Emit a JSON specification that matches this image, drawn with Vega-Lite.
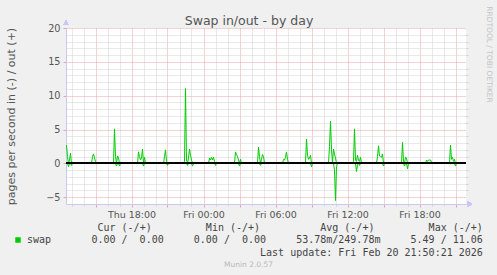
{
  "$schema": "https://vega.github.io/schema/vega-lite/v6.json",
  "width": 400,
  "height": 176,
  "autosize": {"type": "none"},
  "padding": {"left": 66, "top": 28, "right": 31, "bottom": 71},
  "background": "#f0f0f0",
  "view": {"fill": "white", "stroke": null},
  "data": {"values": [
    {"t": "2026-02-19T12:35", "v": 2.7, "d": "out"},
    {"t": "2026-02-19T12:40", "v": 1.0, "d": "out"},
    {"t": "2026-02-19T12:45", "v": 0, "d": "out"},
    {"t": "2026-02-19T12:50", "v": 0.5, "d": "out"},
    {"t": "2026-02-19T12:55", "v": 1.5, "d": "out"},
    {"t": "2026-02-19T13:00", "v": 0, "d": "out"},
    {"t": "2026-02-19T14:40", "v": 0, "d": "out"},
    {"t": "2026-02-19T14:45", "v": 1.0, "d": "out"},
    {"t": "2026-02-19T14:50", "v": 1.4, "d": "out"},
    {"t": "2026-02-19T14:55", "v": 0.8, "d": "out"},
    {"t": "2026-02-19T15:00", "v": 0.3, "d": "out"},
    {"t": "2026-02-19T15:05", "v": 0, "d": "out"},
    {"t": "2026-02-19T16:30", "v": 0, "d": "out"},
    {"t": "2026-02-19T16:35", "v": 5.1, "d": "out"},
    {"t": "2026-02-19T16:40", "v": 1.0, "d": "out"},
    {"t": "2026-02-19T16:45", "v": 0, "d": "out"},
    {"t": "2026-02-19T16:50", "v": 1.1, "d": "out"},
    {"t": "2026-02-19T16:55", "v": 0.8, "d": "out"},
    {"t": "2026-02-19T17:00", "v": 0, "d": "out"},
    {"t": "2026-02-19T18:30", "v": 0, "d": "out"},
    {"t": "2026-02-19T18:35", "v": 1.7, "d": "out"},
    {"t": "2026-02-19T18:40", "v": 1.0, "d": "out"},
    {"t": "2026-02-19T18:45", "v": 0.5, "d": "out"},
    {"t": "2026-02-19T18:50", "v": 0.8, "d": "out"},
    {"t": "2026-02-19T18:55", "v": 2.1, "d": "out"},
    {"t": "2026-02-19T19:00", "v": 0, "d": "out"},
    {"t": "2026-02-19T19:05", "v": 0.9, "d": "out"},
    {"t": "2026-02-19T19:10", "v": 0, "d": "out"},
    {"t": "2026-02-19T20:40", "v": 0, "d": "out"},
    {"t": "2026-02-19T20:45", "v": 1.0, "d": "out"},
    {"t": "2026-02-19T20:50", "v": 2.0, "d": "out"},
    {"t": "2026-02-19T20:55", "v": 0.3, "d": "out"},
    {"t": "2026-02-19T21:00", "v": 0, "d": "out"},
    {"t": "2026-02-19T22:20", "v": 0, "d": "out"},
    {"t": "2026-02-19T22:25", "v": 0.3, "d": "out"},
    {"t": "2026-02-19T22:30", "v": 11.06, "d": "out"},
    {"t": "2026-02-19T22:35", "v": 0.5, "d": "out"},
    {"t": "2026-02-19T22:40", "v": 0, "d": "out"},
    {"t": "2026-02-19T22:45", "v": 0.8, "d": "out"},
    {"t": "2026-02-19T22:50", "v": 2.1, "d": "out"},
    {"t": "2026-02-19T22:55", "v": 1.2, "d": "out"},
    {"t": "2026-02-19T23:00", "v": 0.5, "d": "out"},
    {"t": "2026-02-19T23:05", "v": 0, "d": "out"},
    {"t": "2026-02-20T00:25", "v": 0, "d": "out"},
    {"t": "2026-02-20T00:30", "v": 0.8, "d": "out"},
    {"t": "2026-02-20T00:35", "v": 0.5, "d": "out"},
    {"t": "2026-02-20T00:40", "v": 0.9, "d": "out"},
    {"t": "2026-02-20T00:45", "v": 0.5, "d": "out"},
    {"t": "2026-02-20T00:50", "v": 0.9, "d": "out"},
    {"t": "2026-02-20T00:55", "v": 0.3, "d": "out"},
    {"t": "2026-02-20T01:00", "v": 0, "d": "out"},
    {"t": "2026-02-20T02:35", "v": 0, "d": "out"},
    {"t": "2026-02-20T02:40", "v": 1.7, "d": "out"},
    {"t": "2026-02-20T02:45", "v": 1.3, "d": "out"},
    {"t": "2026-02-20T02:50", "v": 1.0, "d": "out"},
    {"t": "2026-02-20T02:55", "v": 0.5, "d": "out"},
    {"t": "2026-02-20T03:00", "v": 0, "d": "out"},
    {"t": "2026-02-20T03:05", "v": 0.6, "d": "out"},
    {"t": "2026-02-20T03:10", "v": 0, "d": "out"},
    {"t": "2026-02-20T04:30", "v": 0, "d": "out"},
    {"t": "2026-02-20T04:35", "v": 2.4, "d": "out"},
    {"t": "2026-02-20T04:40", "v": 1.0, "d": "out"},
    {"t": "2026-02-20T04:45", "v": 0, "d": "out"},
    {"t": "2026-02-20T04:50", "v": 0.6, "d": "out"},
    {"t": "2026-02-20T04:55", "v": 1.3, "d": "out"},
    {"t": "2026-02-20T05:00", "v": 1.0, "d": "out"},
    {"t": "2026-02-20T05:05", "v": 0, "d": "out"},
    {"t": "2026-02-20T06:35", "v": 0, "d": "out"},
    {"t": "2026-02-20T06:40", "v": 0.6, "d": "out"},
    {"t": "2026-02-20T06:45", "v": 0.5, "d": "out"},
    {"t": "2026-02-20T06:50", "v": 0.9, "d": "out"},
    {"t": "2026-02-20T06:55", "v": 1.7, "d": "out"},
    {"t": "2026-02-20T07:00", "v": 0.6, "d": "out"},
    {"t": "2026-02-20T07:05", "v": 0, "d": "out"},
    {"t": "2026-02-20T08:30", "v": 0, "d": "out"},
    {"t": "2026-02-20T08:35", "v": 3.6, "d": "out"},
    {"t": "2026-02-20T08:40", "v": 1.2, "d": "out"},
    {"t": "2026-02-20T08:45", "v": 0.6, "d": "out"},
    {"t": "2026-02-20T08:50", "v": 0.8, "d": "out"},
    {"t": "2026-02-20T08:55", "v": 1.2, "d": "out"},
    {"t": "2026-02-20T09:00", "v": 0, "d": "out"},
    {"t": "2026-02-20T10:25", "v": 0, "d": "out"},
    {"t": "2026-02-20T10:30", "v": 2.5, "d": "out"},
    {"t": "2026-02-20T10:35", "v": 6.2, "d": "out"},
    {"t": "2026-02-20T10:40", "v": 2.0, "d": "out"},
    {"t": "2026-02-20T10:45", "v": 0.1, "d": "out"},
    {"t": "2026-02-20T10:50", "v": 2.1, "d": "out"},
    {"t": "2026-02-20T10:55", "v": 1.4, "d": "out"},
    {"t": "2026-02-20T11:00", "v": 0.8, "d": "out"},
    {"t": "2026-02-20T11:05", "v": 0, "d": "out"},
    {"t": "2026-02-20T12:25", "v": 0, "d": "out"},
    {"t": "2026-02-20T12:30", "v": 0.3, "d": "out"},
    {"t": "2026-02-20T12:35", "v": 5.1, "d": "out"},
    {"t": "2026-02-20T12:40", "v": 0.5, "d": "out"},
    {"t": "2026-02-20T12:45", "v": 0.3, "d": "out"},
    {"t": "2026-02-20T12:50", "v": 1.2, "d": "out"},
    {"t": "2026-02-20T12:55", "v": 0.5, "d": "out"},
    {"t": "2026-02-20T13:00", "v": 0.3, "d": "out"},
    {"t": "2026-02-20T13:05", "v": 0.9, "d": "out"},
    {"t": "2026-02-20T13:10", "v": 0.1, "d": "out"},
    {"t": "2026-02-20T13:15", "v": 0, "d": "out"},
    {"t": "2026-02-20T14:25", "v": 0, "d": "out"},
    {"t": "2026-02-20T14:30", "v": 1.0, "d": "out"},
    {"t": "2026-02-20T14:35", "v": 2.6, "d": "out"},
    {"t": "2026-02-20T14:40", "v": 1.1, "d": "out"},
    {"t": "2026-02-20T14:45", "v": 1.0, "d": "out"},
    {"t": "2026-02-20T14:50", "v": 0.9, "d": "out"},
    {"t": "2026-02-20T14:55", "v": 1.4, "d": "out"},
    {"t": "2026-02-20T15:00", "v": 0, "d": "out"},
    {"t": "2026-02-20T16:30", "v": 0, "d": "out"},
    {"t": "2026-02-20T16:35", "v": 3.1, "d": "out"},
    {"t": "2026-02-20T16:40", "v": 0.3, "d": "out"},
    {"t": "2026-02-20T16:45", "v": 0, "d": "out"},
    {"t": "2026-02-20T16:50", "v": 0.9, "d": "out"},
    {"t": "2026-02-20T16:55", "v": 0.8, "d": "out"},
    {"t": "2026-02-20T17:00", "v": 0, "d": "out"},
    {"t": "2026-02-20T18:30", "v": 0, "d": "out"},
    {"t": "2026-02-20T18:35", "v": 0.5, "d": "out"},
    {"t": "2026-02-20T18:40", "v": 0.3, "d": "out"},
    {"t": "2026-02-20T18:45", "v": 0.5, "d": "out"},
    {"t": "2026-02-20T18:50", "v": 0.5, "d": "out"},
    {"t": "2026-02-20T18:55", "v": 0.5, "d": "out"},
    {"t": "2026-02-20T19:00", "v": 0.2, "d": "out"},
    {"t": "2026-02-20T19:05", "v": 0, "d": "out"},
    {"t": "2026-02-20T20:30", "v": 0, "d": "out"},
    {"t": "2026-02-20T20:35", "v": 2.7, "d": "out"},
    {"t": "2026-02-20T20:40", "v": 0.6, "d": "out"},
    {"t": "2026-02-20T20:45", "v": 0.9, "d": "out"},
    {"t": "2026-02-20T20:50", "v": 0.3, "d": "out"},
    {"t": "2026-02-20T20:55", "v": 0.6, "d": "out"},
    {"t": "2026-02-20T21:00", "v": 0, "d": "out"},
    {"t": "2026-02-20T21:50", "v": 0, "d": "out"},
    {"t": "2026-02-19T12:35", "v": 0, "d": "in"},
    {"t": "2026-02-19T12:40", "v": 0, "d": "in"},
    {"t": "2026-02-19T12:45", "v": -0.5, "d": "in"},
    {"t": "2026-02-19T12:50", "v": 0, "d": "in"},
    {"t": "2026-02-19T12:55", "v": 0, "d": "in"},
    {"t": "2026-02-19T13:00", "v": -0.3, "d": "in"},
    {"t": "2026-02-19T13:05", "v": 0, "d": "in"},
    {"t": "2026-02-19T16:40", "v": 0, "d": "in"},
    {"t": "2026-02-19T16:45", "v": -0.4, "d": "in"},
    {"t": "2026-02-19T16:50", "v": 0, "d": "in"},
    {"t": "2026-02-19T16:55", "v": 0, "d": "in"},
    {"t": "2026-02-19T17:00", "v": -0.4, "d": "in"},
    {"t": "2026-02-19T17:05", "v": 0, "d": "in"},
    {"t": "2026-02-19T18:55", "v": 0, "d": "in"},
    {"t": "2026-02-19T19:00", "v": -0.4, "d": "in"},
    {"t": "2026-02-19T19:05", "v": 0, "d": "in"},
    {"t": "2026-02-19T20:55", "v": 0, "d": "in"},
    {"t": "2026-02-19T21:00", "v": -0.3, "d": "in"},
    {"t": "2026-02-19T21:05", "v": 0, "d": "in"},
    {"t": "2026-02-19T22:35", "v": 0, "d": "in"},
    {"t": "2026-02-19T22:40", "v": -0.3, "d": "in"},
    {"t": "2026-02-19T22:45", "v": 0, "d": "in"},
    {"t": "2026-02-19T23:00", "v": 0, "d": "in"},
    {"t": "2026-02-19T23:05", "v": -0.4, "d": "in"},
    {"t": "2026-02-19T23:10", "v": 0, "d": "in"},
    {"t": "2026-02-20T00:55", "v": 0, "d": "in"},
    {"t": "2026-02-20T01:00", "v": -0.3, "d": "in"},
    {"t": "2026-02-20T01:05", "v": 0, "d": "in"},
    {"t": "2026-02-20T02:55", "v": 0, "d": "in"},
    {"t": "2026-02-20T03:00", "v": -0.4, "d": "in"},
    {"t": "2026-02-20T03:05", "v": 0, "d": "in"},
    {"t": "2026-02-20T04:40", "v": 0, "d": "in"},
    {"t": "2026-02-20T04:45", "v": -0.3, "d": "in"},
    {"t": "2026-02-20T04:50", "v": 0, "d": "in"},
    {"t": "2026-02-20T08:55", "v": 0, "d": "in"},
    {"t": "2026-02-20T09:00", "v": -0.5, "d": "in"},
    {"t": "2026-02-20T09:05", "v": 0, "d": "in"},
    {"t": "2026-02-20T10:50", "v": 0, "d": "in"},
    {"t": "2026-02-20T10:55", "v": -1.0, "d": "in"},
    {"t": "2026-02-20T11:00", "v": -5.49, "d": "in"},
    {"t": "2026-02-20T11:05", "v": -0.5, "d": "in"},
    {"t": "2026-02-20T11:10", "v": 0, "d": "in"},
    {"t": "2026-02-20T12:40", "v": 0, "d": "in"},
    {"t": "2026-02-20T12:45", "v": -1.2, "d": "in"},
    {"t": "2026-02-20T12:50", "v": -0.2, "d": "in"},
    {"t": "2026-02-20T12:55", "v": 0, "d": "in"},
    {"t": "2026-02-20T13:00", "v": -0.3, "d": "in"},
    {"t": "2026-02-20T13:05", "v": 0, "d": "in"},
    {"t": "2026-02-20T14:55", "v": 0, "d": "in"},
    {"t": "2026-02-20T15:00", "v": -0.4, "d": "in"},
    {"t": "2026-02-20T15:05", "v": 0, "d": "in"},
    {"t": "2026-02-20T16:40", "v": 0, "d": "in"},
    {"t": "2026-02-20T16:45", "v": -0.4, "d": "in"},
    {"t": "2026-02-20T16:50", "v": 0, "d": "in"},
    {"t": "2026-02-20T16:55", "v": 0, "d": "in"},
    {"t": "2026-02-20T17:00", "v": -0.8, "d": "in"},
    {"t": "2026-02-20T17:05", "v": 0, "d": "in"},
    {"t": "2026-02-20T20:55", "v": 0, "d": "in"},
    {"t": "2026-02-20T21:00", "v": -0.4, "d": "in"},
    {"t": "2026-02-20T21:05", "v": 0, "d": "in"},
    {"t": "2026-02-20T21:50", "v": 0, "d": "in"}
  ]},
  "resolve": {"scale": {"x": "shared", "y": "shared"}, "axis": {"x": "independent", "y": "independent"}},
  "layer": [
    {
      "transform": [{"filter": "datum.d === 'out'"}],
      "mark": {"type": "line", "strokeWidth": 1, "clip": true},
      "encoding": {
        "x": {"field": "t", "type": "temporal",
          "scale": {"domain": [{"year": 2026, "month": 2, "date": 19, "hours": 12, "minutes": 32, "seconds": 30}, {"year": 2026, "month": 2, "date": 20, "hours": 21, "minutes": 52, "seconds": 30}]},
          "axis": {"orient": "bottom",
            "values": [{"year": 2026, "month": 2, "date": 19, "hours": 15}, {"year": 2026, "month": 2, "date": 19, "hours": 18}, {"year": 2026, "month": 2, "date": 19, "hours": 21}, {"year": 2026, "month": 2, "date": 20, "hours": 0}, {"year": 2026, "month": 2, "date": 20, "hours": 3}, {"year": 2026, "month": 2, "date": 20, "hours": 6}, {"year": 2026, "month": 2, "date": 20, "hours": 9}, {"year": 2026, "month": 2, "date": 20, "hours": 12}, {"year": 2026, "month": 2, "date": 20, "hours": 15}, {"year": 2026, "month": 2, "date": 20, "hours": 18}, {"year": 2026, "month": 2, "date": 20, "hours": 21}],
            "labelExpr": "hours(datum.value) % 6 === 0 ? timeFormat(datum.value, '%a %H:%M') : ''",
            "grid": true, "gridColor": "#e3a6a6", "gridDash": [1, 1], "gridWidth": 1,
            "ticks": true, "tickColor": "#e3a6a6", "tickSize": 3, "tickWidth": 1,
            "domain": true, "domainColor": "#c8c8f4", "domainWidth": 1,
            "labelFont": "DejaVu Sans", "labelFontSize": 9.5, "labelColor": "#555555", "labelPadding": 2, "labelFlush": false, "labelOverlap": false,
            "title": ["Cur\u00a0(-/+)\u00a0\u00a0\u00a0\u00a0\u00a0\u00a0\u00a0\u00a0\u00a0Min\u00a0(-/+)\u00a0\u00a0\u00a0\u00a0\u00a0\u00a0\u00a0\u00a0\u00a0\u00a0Avg\u00a0(-/+)\u00a0\u00a0\u00a0\u00a0\u00a0\u00a0\u00a0\u00a0\u00a0Max\u00a0(-/+)\u00a0", "0.00\u00a0/\u00a0\u00a00.00\u00a0\u00a0\u00a0\u00a0\u00a00.00\u00a0/\u00a0\u00a00.00\u00a0\u00a0\u00a0\u00a0\u00a053.78m/249.78m\u00a0\u00a0\u00a0\u00a0\u00a05.49\u00a0/\u00a011.06\u00a0", "Last update: Fri Feb 20 21:50:21 2026"],
            "titleFont": "DejaVu Sans Mono", "titleFontSize": 10, "titleFontWeight": "normal", "titleColor": "#444444",
            "titleAlign": "right", "titleAnchor": "end", "titleX": 416.3, "titleY": 26, "titleBaseline": "alphabetic", "titleLineHeight": 12.5}
        },
        "y": {"field": "v", "type": "quantitative",
          "scale": {"domain": [-6, 20], "nice": false, "zero": false},
          "axis": {"orient": "left", "values": [-5, 0, 5, 10, 15, 20],
            "grid": true, "gridColor": "#e3a6a6", "gridDash": [1, 1], "gridWidth": 1,
            "ticks": true, "tickColor": "#e3a6a6", "tickSize": 3, "tickWidth": 1,
            "domain": true, "domainColor": "#c8c8f4", "domainWidth": 1,
            "labelFont": "DejaVu Sans", "labelFontSize": 9.7, "labelColor": "#555555", "labelPadding": 3,
            "title": "pages per second in (-) / out (+)",
            "titleFont": "DejaVu Sans", "titleFontSize": 11, "titleFontWeight": "normal", "titleColor": "#555555",
            "titleX": -55, "titleBaseline": "middle"}
        },
        "color": {"datum": "swap", "scale": {"range": ["#00cc00"]},
          "legend": {"orient": "none", "legendX": -53, "legendY": 207, "title": null, "symbolType": "square", "symbolSize": 30, "symbolFillColor": "#00cc00", "symbolStrokeColor": "#00cc00", "symbolStrokeWidth": 0, "labelFont": "DejaVu Sans Mono", "labelFontSize": 10, "labelColor": "#444444", "labelOffset": 4, "padding": 0}}
      }
    },
    {
      "transform": [{"filter": "datum.d === 'in'"}],
      "mark": {"type": "line", "strokeWidth": 1, "clip": true},
      "encoding": {
        "x": {"field": "t", "type": "temporal",
          "axis": {"orient": "bottom",
            "values": [{"year": 2026, "month": 2, "date": 19, "hours": 13}, {"year": 2026, "month": 2, "date": 19, "hours": 14}, {"year": 2026, "month": 2, "date": 19, "hours": 16}, {"year": 2026, "month": 2, "date": 19, "hours": 17}, {"year": 2026, "month": 2, "date": 19, "hours": 19}, {"year": 2026, "month": 2, "date": 19, "hours": 20}, {"year": 2026, "month": 2, "date": 19, "hours": 22}, {"year": 2026, "month": 2, "date": 19, "hours": 23}, {"year": 2026, "month": 2, "date": 20, "hours": 1}, {"year": 2026, "month": 2, "date": 20, "hours": 2}, {"year": 2026, "month": 2, "date": 20, "hours": 4}, {"year": 2026, "month": 2, "date": 20, "hours": 5}, {"year": 2026, "month": 2, "date": 20, "hours": 7}, {"year": 2026, "month": 2, "date": 20, "hours": 8}, {"year": 2026, "month": 2, "date": 20, "hours": 10}, {"year": 2026, "month": 2, "date": 20, "hours": 11}, {"year": 2026, "month": 2, "date": 20, "hours": 13}, {"year": 2026, "month": 2, "date": 20, "hours": 14}, {"year": 2026, "month": 2, "date": 20, "hours": 16}, {"year": 2026, "month": 2, "date": 20, "hours": 17}, {"year": 2026, "month": 2, "date": 20, "hours": 19}, {"year": 2026, "month": 2, "date": 20, "hours": 20}],
            "labels": false, "grid": true, "gridColor": "#d2d2d2", "gridDash": [1, 1], "gridWidth": 1,
            "ticks": true, "tickColor": "#d2d2d2", "tickSize": 2, "domain": false,
            "title": "Munin 2.0.57", "titleFont": "DejaVu Sans", "titleFontSize": 7.5, "titleFontWeight": "normal", "titleColor": "#b8b8b8",
            "titleX": 182, "titleY": 60, "titleBaseline": "middle", "titleAlign": "center", "titleAnchor": "middle"}
        },
        "y": {"field": "v", "type": "quantitative",
          "axis": {"orient": "right", "values": [-4, -3, -2, -1, 1, 2, 3, 4, 6, 7, 8, 9, 11, 12, 13, 14, 16, 17, 18, 19],
            "labels": false, "grid": true, "gridColor": "#d2d2d2", "gridDash": [1, 1], "gridWidth": 1,
            "ticks": true, "tickColor": "#d2d2d2", "tickSize": 2, "domain": false,
            "title": "RRDTOOL / TOBI OETIKER", "titleFont": "DejaVu Sans", "titleFontSize": 7.5, "titleFontWeight": "normal", "titleColor": "#c4c4c4",
            "titleAngle": 90, "titleX": 22.5, "titleY": 26, "titleBaseline": "middle", "titleAlign": "center", "titleAnchor": "middle"}
        },
        "color": {"datum": "swap"}
      }
    },
    {
      "mark": {"type": "rule", "color": "#000000", "strokeWidth": 1.2},
      "encoding": {"y": {"datum": 0, "axis": null}}
    },
    {
      "mark": {"type": "point", "shape": "triangle-right", "filled": true, "color": "#c8c8f4", "size": 28, "opacity": 1, "clip": false},
      "encoding": {
        "x": {"datum": {"year": 2026, "month": 2, "date": 20, "hours": 22, "minutes": 12}, "type": "temporal",
          "axis": {"orient": "top", "labels": false, "ticks": false, "domain": false, "grid": false,
            "title": "Swap in/out - by day", "titleFont": "DejaVu Sans", "titleFontSize": 12.5, "titleFontWeight": "normal", "titleColor": "#555555",
            "titleX": 182.5, "titleY": -3.7, "titleBaseline": "alphabetic", "titleAlign": "center", "titleAnchor": "middle"}},
        "y": {"datum": -6, "axis": null}
      }
    },
    {
      "mark": {"type": "point", "shape": "triangle-up", "filled": true, "color": "#c8c8f4", "size": 28, "opacity": 1, "clip": false},
      "encoding": {
        "x": {"datum": {"year": 2026, "month": 2, "date": 19, "hours": 12, "minutes": 32, "seconds": 30}, "type": "temporal", "axis": null},
        "y": {"datum": 20.8, "axis": null}
      }
    }
  ]
}
